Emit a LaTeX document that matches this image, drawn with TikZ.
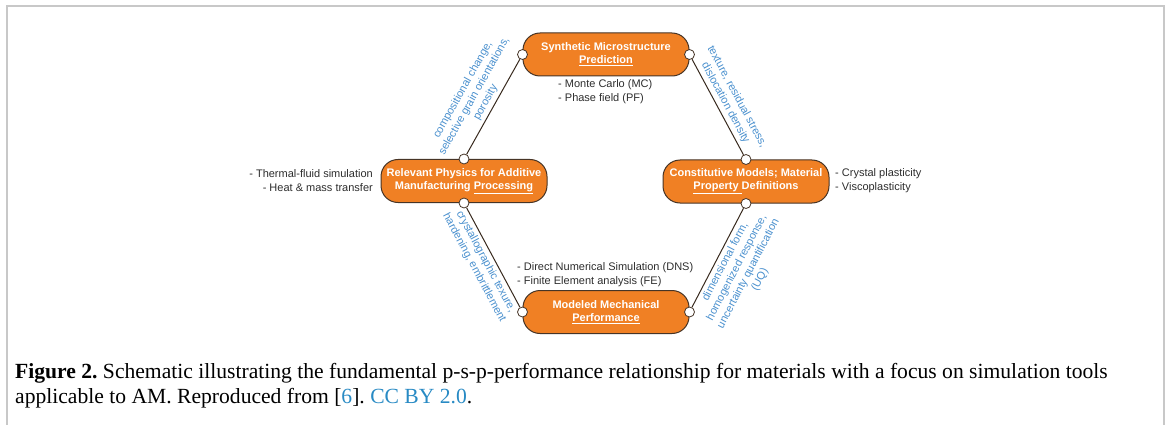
\documentclass[tikz,border=0pt]{standalone}
\usepackage{fontspec}
\setmainfont{Liberation Serif}
\setsansfont{Liberation Sans}
\definecolor{boxorange}{RGB}{240,128,36}
\definecolor{boxedge}{RGB}{70,52,38}
\definecolor{labblue}{RGB}{74,144,206}
\definecolor{note}{RGB}{45,45,45}
\definecolor{linkblue}{RGB}{40,138,196}
\definecolor{framegray}{RGB}{200,200,200}
\tikzset{
  stage/.style={draw=boxedge, line width=1pt, fill=boxorange, rounded corners=17pt,
    minimum width=166pt, minimum height=43pt, inner sep=0pt, text=white,
    font=\sffamily\bfseries\fontsize{11}{13}\selectfont, align=center},
  port/.style={circle, draw=boxedge, fill=white, line width=0.8pt, minimum size=10pt, inner sep=0pt},
  link/.style={draw=boxedge!80!black, line width=1pt},
  edgelab/.style={sloped, text=labblue, font=\sffamily\fontsize{11}{13}\selectfont, align=center, inner sep=3pt},
  notes/.style={text=note, font=\sffamily\fontsize{11}{14}\selectfont, inner sep=0pt},
  capline/.style={anchor=base west, inner sep=0pt, font=\frenchspacing\fontsize{21.6}{25}\selectfont}
}
\begin{document}
\begin{tikzpicture}[x=1pt,y=-1pt]
\useasboundingbox (0,0) rectangle (1170,425);
\draw[framegray, line width=1.5pt] (7,425) -- (7,6) -- (1164,6) -- (1164,425);

\node[stage] (top) at (606,54.5) {Synthetic Microstructure\\\underline{Prediction}};
\node[stage] (left) at (464,181) {Relevant Physics for Additive\\Manufacturing \underline{Processing}};
\node[stage] (right) at (746,181.5) {Constitutive Models; Material\\\underline{Property }Definitions};
\node[stage] (bot) at (606,312) {Modeled Mechanical\\\underline{Performance}};

\node[port] (tw) at (top.west) {};
\node[port] (te) at (top.east) {};
\node[port] (ln) at (left.north) {};
\node[port] (ls) at (left.south) {};
\node[port] (rn) at (right.north) {};
\node[port] (rs) at (right.south) {};
\node[port] (bw) at (bot.west) {};
\node[port] (be) at (bot.east) {};

\draw[link] (ln) -- node[edgelab, above] {compositional change,\\selective grain orientations,\\porosity} (tw);
\draw[link] (te) -- node[edgelab, above] {texture, residual stress,\\dislocation density} (rn);
\draw[link] (ls) -- node[edgelab, below] {crystallographic texure,\\hardening, embrittlement} (bw);
\draw[link] (be) -- node[edgelab, below] {dimensional form,\\homogenized response,\\uncertainty quantification\\(UQ)} (rs);

\node[notes, anchor=north west, align=left] (ntop) at (558,79) {- Monte Carlo (MC)\\- Phase field (PF)};
\node[notes, anchor=east, align=right] (nleft) at (373,181) {- Thermal-fluid simulation\\- Heat \& mass transfer};
\node[notes, anchor=west, align=left] (nright) at (835,181) {- Crystal plasticity\\- Viscoplasticity};
\node[notes, anchor=south west, align=left] (nbot) at (517,287) {- Direct Numerical Simulation (DNS)\\- Finite Element analysis (FE)};

\node[capline] (cap1) at (15,378) {\textbf{Figure 2.} Schematic illustrating the fundamental p-s-p-performance relationship for materials with a focus on simulation tools};
\node[capline] (cap2) at (15,403) {applicable to AM. Reproduced from [\textcolor{linkblue}{6}]. \textcolor{linkblue}{CC BY 2.0}.};
\end{tikzpicture}
\end{document}
